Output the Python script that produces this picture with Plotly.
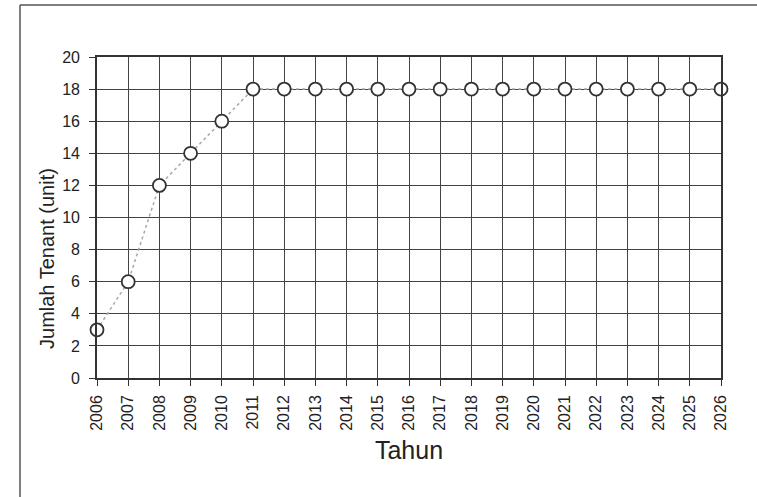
import plotly.graph_objects as go

years = [str(y) for y in range(2006, 2027)]
tenants = [3, 6, 12, 14, 16, 18, 18, 18, 18, 18, 18, 18, 18, 18, 18, 18, 18, 18, 18, 18, 18]
y_ticks = list(range(0, 21, 2))

fig = go.Figure()
fig.add_trace(go.Scatter(
    x=list(range(len(years))), y=tenants, mode="lines+markers",
    line=dict(color="#a8a8a8", width=1.5, dash="dot"),
    marker=dict(size=13, color="white", line=dict(color="#333333", width=1.8)),
    cliponaxis=False, showlegend=False,
))

font = "Liberation Sans, Arial, sans-serif"
fig.update_layout(
    width=757, height=497,
    margin=dict(l=97, r=36, t=57, b=119),
    paper_bgcolor="white", plot_bgcolor="white",
    font=dict(family=font, color="#222222", size=16),
    xaxis=dict(
        range=[0, 20], tickmode="array", tickvals=list(range(len(years))), ticktext=years,
        tickangle=-90, showgrid=True, gridcolor="#444444", gridwidth=1.4,
        showline=True, linecolor="#333333", linewidth=1.6, mirror=True,
        ticks="outside", ticklen=6, tickcolor="#333333", zeroline=False,
        tickfont=dict(size=16), ticklabelstandoff=3,
        title=dict(text="Tahun", font=dict(size=25, color="#222222"), standoff=12),
    ),
    yaxis=dict(
        range=[0, 20], tickvals=y_ticks, showgrid=True, gridcolor="#444444", gridwidth=1.4,
        showline=True, linecolor="#333333", linewidth=1.6, mirror=True,
        ticks="outside", ticklen=6, tickcolor="#333333", zeroline=False,
        tickfont=dict(size=16), ticklabelstandoff=6,
    ),
    annotations=[
        dict(text="Jumlah Tenant (unit)", xref="paper", yref="paper", x=-0.080, y=0.371,
             textangle=-90, showarrow=False, xanchor="center", yanchor="middle",
             font=dict(size=20, color="#222222", family=font)),
    ],
    shapes=[
        dict(type="line", xref="paper", yref="paper", x0=-0.1234, x1=1.1, y0=1.1620, y1=1.1620,
             line=dict(color="#555555", width=1.5)),
        dict(type="line", xref="paper", yref="paper", x0=-0.1234, x1=-0.1234, y0=1.1620, y1=-0.5,
             line=dict(color="#555555", width=1.5)),
    ],
)
fig.write_html("out.html", post_script="document.body.style.margin='0';",
               config={"displayModeBar": False})
